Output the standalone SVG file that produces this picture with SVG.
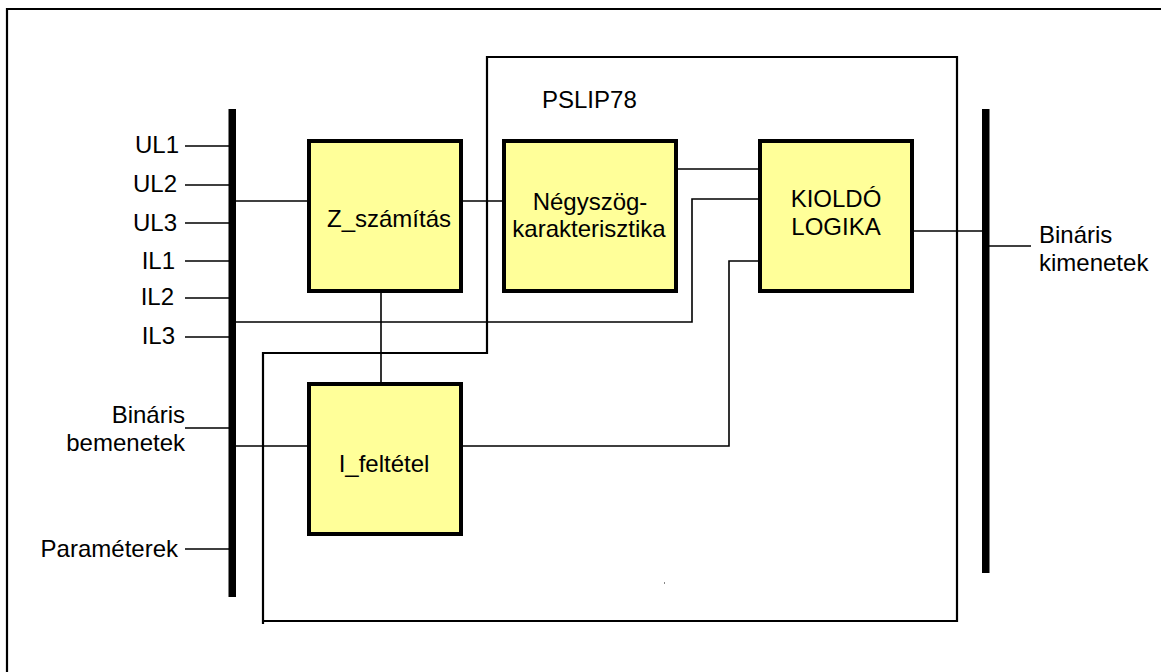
<svg xmlns="http://www.w3.org/2000/svg" width="1161" height="672" viewBox="0 0 1161 672">
<style>
.t{font-family:"Liberation Sans",Arial,sans-serif;font-size:24px;fill:#000}
.e{text-anchor:end}
.m{text-anchor:middle}
.box{fill:#FFFF99;stroke:#000;stroke-width:4}
.c{fill:none;stroke:#000;stroke-width:1.6}
.f{fill:none;stroke:#000;stroke-width:2.2}
.bus{fill:#000}
</style>
<rect width="1161" height="672" fill="#fff"/>
<path class="f" d="M7,672 V9 H1161" stroke-width="2.6"/>
<g id="frame">
<path class="f" d="M263,624 V353 H487 V57 H957 V621 H262"/>
<text class="t" x="542" y="108">PSLIP78</text>
</g>
<g id="bus-left"><rect class="bus" x="228.5" y="109" width="7.5" height="488"/></g>
<g id="bus-right"><rect class="bus" x="982" y="109" width="7.5" height="464"/></g>
<g id="connectors">
<path class="c" d="M185,146 H229 M185,185 H229 M185,223 H229 M185,261 H229 M185,298 H229 M185,337 H229 M185,428 H229 M185,549 H229"/>
<path class="c" d="M236,201 H309"/>
<path class="c" d="M463,201 H504"/>
<path class="c" d="M676,169 H760"/>
<path class="c" d="M236,322 H692 V199 H760"/>
<path class="c" d="M381,293 V384"/>
<path class="c" d="M236,446 H309"/>
<path class="c" d="M463,446 H729 V261 H760"/>
<path class="c" d="M913,231 H982"/>
<path class="c" d="M989,246 H1031"/>
</g>
<g id="labels-in">
<text class="t e" x="179" y="153">UL1</text>
<text class="t e" x="177" y="192">UL2</text>
<text class="t e" x="177" y="231">UL3</text>
<text class="t e" x="175" y="269">IL1</text>
<text class="t e" x="174" y="305">IL2</text>
<text class="t e" x="175" y="344">IL3</text>
<text class="t e" x="185" y="423">Bináris</text>
<text class="t e" x="185" y="451">bemenetek</text>
<text class="t e" x="178" y="557">Paraméterek</text>
</g>
<g id="z-szamitas">
<rect class="box" x="309" y="141" width="152" height="150"/>
<text class="t m" x="389" y="227">Z_számítás</text>
</g>
<g id="negyszog">
<rect class="box" x="504" y="141" width="172" height="150"/>
<text class="t m" x="590" y="210">Négyszög-</text>
<text class="t m" x="589" y="237">karakterisztika</text>
</g>
<g id="kiolodo">
<rect class="box" x="760" y="141" width="152" height="150"/>
<text class="t m" x="836" y="207">KIOLDÓ</text>
<text class="t m" x="836" y="235">LOGIKA</text>
</g>
<g id="i-feltetel">
<rect class="box" x="309" y="384" width="152" height="150"/>
<text class="t m" x="384" y="472">I_feltétel</text>
</g>
<g id="labels-out">
<text class="t" x="1039" y="243">Bináris</text>
<text class="t" x="1039" y="271">kimenetek</text>
</g>
<rect x="664" y="582" width="1" height="2" fill="#888"/>
</svg>
